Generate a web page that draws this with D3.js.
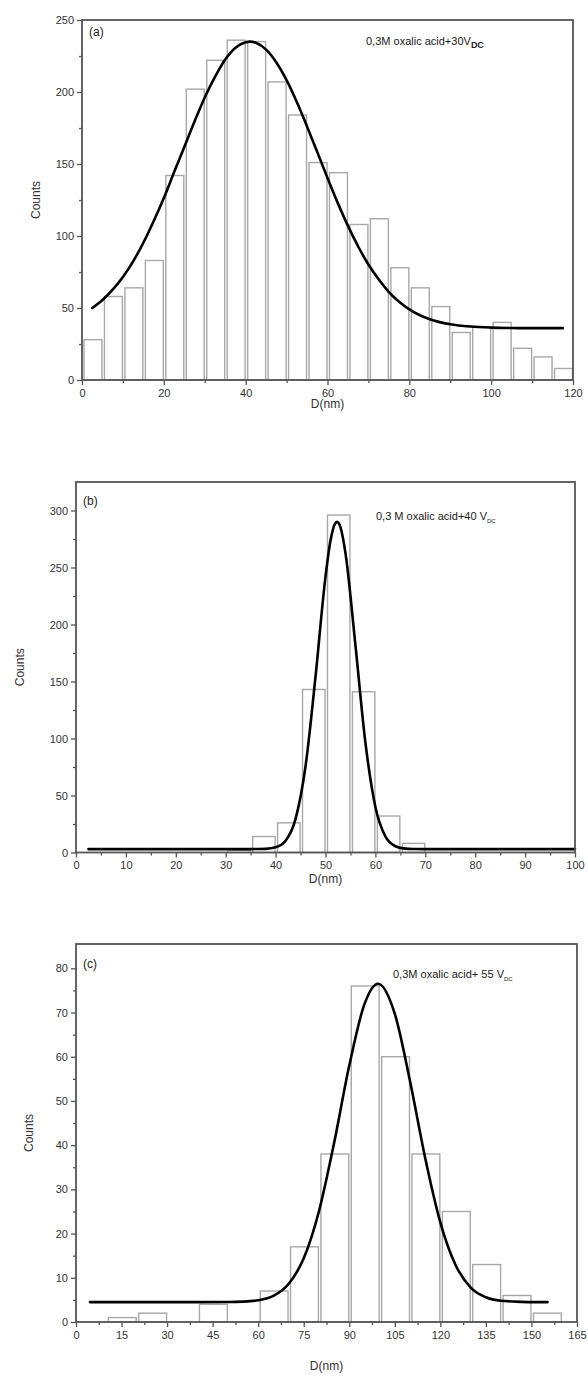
<!DOCTYPE html>
<html><head><meta charset="utf-8">
<script src="https://cdn.jsdelivr.net/npm/d3@7"></script>
<style>
html,body{margin:0;padding:0;background:#fff;}
text{font-family:"Liberation Sans",Arial,sans-serif;}
</style></head>
<body><svg id="chart" width="588" height="1380"></svg>
<script>
// ---------- Panel (a) ----------
const aBinStart = [0,5,10,15,20,25,30,35,40,45,50,55,60,65,70,75,80,85,90,95,100,105,110,115];
const aCounts   = [28,58,64,83,142,202,222,236,235,207,184,151,144,108,112,78,64,51,33,37,40,22,16,8];
const aFitX = [2.5,5,7.5,10,12.5,15,17.5,20,22.5,25,27.5,30,32.5,35,37.5,40,41,42.5,45,47.5,50,52.5,55,57.5,60,62.5,65,67.5,70,72.5,75,77.5,80,85,90,95,100,105,110,117.5];
const aFitY = [50,55.6,62.8,71.6,82.4,95.3,110.2,126.4,144.2,161.8,179.5,196.2,210.5,222.6,230.8,234.6,235,234.2,229.4,220.5,208.2,193,176.1,158.3,140.3,123,107,92.7,80.2,69.9,61.1,54.4,49.1,42.2,38.7,37.1,36.4,36.1,36,36];
const aXTicks = [0,20,40,60,80,100,120];
const aYTicks = [0,50,100,150,200,250];

// ---------- Panel (b) ----------
const bBinStart = [30,35,40,45,50,55,60,65];
const bCounts   = [2,14,26,143,296,141,32,8];
const bFitX = [2.5,10,20,30,35,38,40,42,44,46,48,50,51,52,52.3,53,54,56,58,60,62,64,66,68,70,80,90,100];
const bFitY = [3,3,3,3,3,3.2,4.5,10.3,29.5,75.7,154.3,242,273.6,289.1,290,285.2,262.7,181.8,96.3,40,14.1,5.5,3.4,3.1,3,3,3,3];
const bXTicks = [0,10,20,30,40,50,60,70,80,90,100];
const bYTicks = [0,50,100,150,200,250,300];

// ---------- Panel (c) ----------
const cBinStart = [10,20,40,60,70,80,90,100,110,120,130,140,150];
const cCounts   = [1,2,4,7,17,38,76,60,38,25,13,6,2];
const cFitX = [4.6,20,40,50,55,60,65,70,75,80,85,90,95,99.5,105,110,115,120,125,130,135,140,145,150,155.3];
const cFitY = [4.5,4.5,4.5,4.52,4.6,4.9,5.9,8.6,14.4,25,40.5,58,71.9,76.5,69.7,54.5,37.1,22.5,12.9,7.8,5.6,4.8,4.6,4.5,4.5];
const cXTicks = [0,15,30,45,60,75,90,105,120,135,150,165];
const cYTicks = [0,10,20,30,40,50,60,70,80];

const svg = d3.select("#chart");
const axisCol = "#555";

function drawPanel(o){
  const g = svg.append("g");
  const x = d3.scaleLinear().domain(o.xDomain).range([o.left, o.right]);
  const y = d3.scaleLinear().domain(o.yDomain).range([o.bottom, o.top]);

  // bars
  g.selectAll("rect.bar").data(o.bins.map((b,i)=>({b, c:o.counts[i]}))).join("rect")
    .attr("x", d => x(d.b) + 2)
    .attr("y", d => y(d.c))
    .attr("width", d => x(d.b + o.binW) - x(d.b) - 2.5)
    .attr("height", d => y(0) - y(d.c))
    .attr("fill", "#fff").attr("stroke", "#a8a8a8").attr("stroke-width", 1.4);

  // fit curve
  const line = d3.line().x(d => x(d[0])).y(d => y(d[1])).curve(d3.curveMonotoneX);
  g.append("path").datum(o.fitX.map((v,i)=>[v,o.fitY[i]]))
    .attr("d", line).attr("fill","none").attr("stroke","#000").attr("stroke-width",2.6)
    .attr("stroke-linecap","round");

  // axes
  const xAxis = d3.axisBottom(x).tickValues(o.xTicks).tickSize(5).tickPadding(4).tickFormat(d3.format("d"));
  const xMinor = d3.axisBottom(x).tickValues(o.xMinor).tickSize(3).tickFormat("");
  const yAxis = d3.axisLeft(y).tickValues(o.yTicks).tickSize(5).tickPadding(3).tickFormat(d3.format("d"));
  const yMinor = d3.axisLeft(y).tickValues(o.yMinor).tickSize(3).tickFormat("");
  [[xAxis,`translate(0,${o.bottom})`],[xMinor,`translate(0,${o.bottom})`],[yAxis,`translate(${o.left},0)`],[yMinor,`translate(${o.left},0)`]].forEach(([ax,tr])=>{
    const a = g.append("g").attr("transform",tr).call(ax);
    a.select(".domain").remove();
    a.selectAll("line").attr("stroke",axisCol).attr("stroke-width",1.3);
    a.selectAll("text").attr("fill","#333").attr("font-size",11);
  });
  // frame
  g.append("rect").attr("x",o.left).attr("y",o.top).attr("width",o.right-o.left).attr("height",o.bottom-o.top)
    .attr("fill","none").attr("stroke",axisCol).attr("stroke-width",1.8);

  // titles
  g.append("text").attr("transform",`translate(${o.yTitleX},${(o.top+o.bottom)/2}) rotate(-90)`)
    .attr("text-anchor","middle").attr("font-size",12).attr("fill","#333").text("Counts");
  g.append("text").attr("x",(o.left+o.right)/2).attr("y",o.bottom+o.xTitleDy)
    .attr("text-anchor","middle").attr("font-size",12).attr("fill","#333").text("D(nm)");
  g.append("text").attr("x",o.left+7).attr("y",o.top+o.tagDy).attr("font-size",12).attr("fill","#222").text(o.tag);

  const t = g.append("text").attr("x",o.noteX).attr("y",o.noteY).attr("font-size",o.noteSize).attr("fill","#222");
  t.append("tspan").text(o.note);
  t.append("tspan").attr("dy",3).attr("font-size",o.subSize).attr("font-weight",o.subBold?"bold":"normal").text("DC");
}

drawPanel({
  left:82, right:573, top:20, bottom:380, xDomain:[0,120], yDomain:[0,250],
  bins:aBinStart, counts:aCounts, binW:5, fitX:aFitX, fitY:aFitY,
  xTicks:aXTicks, xMinor:[10,30,50,70,90,110], yTicks:aYTicks, yMinor:[25,75,125,175,225],
  yTitleX:40, xTitleDy:28, tag:"(a)", tagDy:16,
  note:"0,3M oxalic acid+30V", noteX:366, noteY:45, noteSize:11, subSize:9, subBold:true
});
drawPanel({
  left:76, right:575, top:482, bottom:852.5, xDomain:[0,100], yDomain:[0,325],
  bins:bBinStart, counts:bCounts, binW:5, fitX:bFitX, fitY:bFitY,
  xTicks:bXTicks, xMinor:[5,15,25,35,45,55,65,75,85,95], yTicks:bYTicks, yMinor:[25,75,125,175,225,275],
  yTitleX:24, xTitleDy:30, tag:"(b)", tagDy:23,
  note:"0,3 M oxalic acid+40 V", noteX:376, noteY:520, noteSize:11, subSize:6, subBold:false
});
drawPanel({
  left:76, right:577, top:944, bottom:1322, xDomain:[0,165], yDomain:[0,85.5],
  bins:cBinStart, counts:cCounts, binW:10, fitX:cFitX, fitY:cFitY,
  xTicks:cXTicks, xMinor:[7.5,22.5,37.5,52.5,67.5,82.5,97.5,112.5,127.5,142.5,157.5], yTicks:cYTicks, yMinor:[5,15,25,35,45,55,65,75],
  yTitleX:33, xTitleDy:48, tag:"(c)", tagDy:24,
  note:"0,3M oxalic acid+ 55 V", noteX:393, noteY:978, noteSize:11, subSize:6, subBold:false
});
</script></body></html>
